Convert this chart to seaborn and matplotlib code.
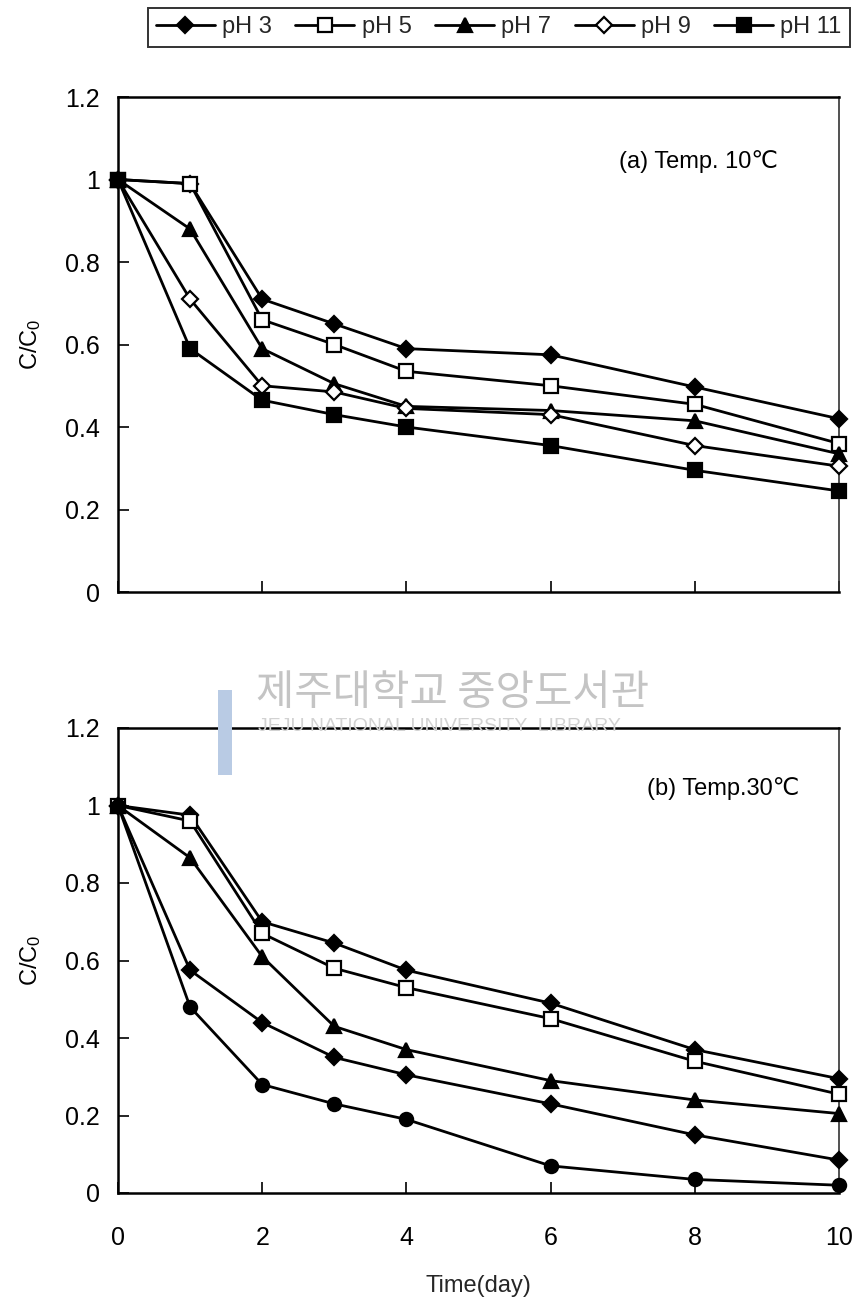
import matplotlib
matplotlib.use("Agg")
import matplotlib.pyplot as plt
import seaborn as sns
import pandas as pd
from matplotlib.ticker import FuncFormatter, FixedLocator
from matplotlib.patches import Rectangle

# ---- data ----
days = [0, 1, 2, 3, 4, 6, 8, 10]
series_names = ["pH 3", "pH 5", "pH 7", "pH 9", "pH 11"]

# (a) Temp. 10 C
temp10 = {
    "pH 3":  [1.00, 0.99, 0.71, 0.65, 0.59, 0.575, 0.497, 0.42],
    "pH 5":  [1.00, 0.99, 0.66, 0.60, 0.535, 0.50, 0.455, 0.36],
    "pH 7":  [1.00, 0.88, 0.59, 0.505, 0.45, 0.44, 0.415, 0.335],
    "pH 9":  [1.00, 0.71, 0.50, 0.485, 0.445, 0.43, 0.355, 0.305],
    "pH 11": [1.00, 0.59, 0.465, 0.43, 0.40, 0.355, 0.295, 0.245],
}
# (b) Temp. 30 C
temp30 = {
    "pH 3":  [1.00, 0.975, 0.70, 0.645, 0.575, 0.49, 0.37, 0.295],
    "pH 5":  [1.00, 0.96, 0.67, 0.58, 0.53, 0.45, 0.34, 0.255],
    "pH 7":  [1.00, 0.865, 0.61, 0.43, 0.37, 0.29, 0.24, 0.205],
    "pH 9":  [1.00, 0.575, 0.44, 0.35, 0.305, 0.23, 0.15, 0.085],
    "pH 11": [1.00, 0.48, 0.28, 0.23, 0.19, 0.07, 0.035, 0.02],
}
y_ticks = [0, 0.2, 0.4, 0.6, 0.8, 1.0, 1.2]
x_ticks = [0, 2, 4, 6, 8, 10]

# marker styles: (marker, size, filled)
style_a = {
    "pH 3":  ("D", 8, True),
    "pH 5":  ("s", 9.5, False),
    "pH 7":  ("^", 9.5, True),
    "pH 9":  ("D", 8, False),
    "pH 11": ("s", 9.5, True),
}
style_b = {
    "pH 3":  ("D", 8, True),
    "pH 5":  ("s", 9.5, False),
    "pH 7":  ("^", 9.5, True),
    "pH 9":  ("D", 8, True),
    "pH 11": ("o", 9.5, True),
}

sns.set_theme(style="white")
plt.rcParams["font.family"] = ["Liberation Sans", "DejaVu Sans"]
plt.rcParams["mathtext.default"] = "regular"

W, H = 852, 1306
fig = plt.figure(figsize=(W / 100, H / 100), dpi=100)
fig.patch.set_facecolor("white")


def frac_box(x0, y0, x1, y1):
    return [x0 / W, 1 - y1 / H, (x1 - x0) / W, (y1 - y0) / H]


ax_a = fig.add_axes(frac_box(118, 97, 839, 592))
ax_b = fig.add_axes(frac_box(118, 728, 839, 1193))


def draw_panel(ax, data, styles, label_text, label_x, show_xlabels):
    for name in series_names:
        m, ms, filled = styles[name]
        df = pd.DataFrame({"day": days, "val": data[name]})
        sns.lineplot(data=df, x="day", y="val", ax=ax, color="black", lw=2.0,
                     marker=m, markersize=ms,
                     markerfacecolor="black" if filled else "white",
                     markeredgecolor="black", markeredgewidth=1.6,
                     label=name, clip_on=False, zorder=3)
    ax.set_xlim(0, 10)
    ax.set_ylim(0, 1.2)
    ax.yaxis.set_major_locator(FixedLocator(y_ticks))
    ax.xaxis.set_major_locator(FixedLocator(x_ticks))
    ax.yaxis.set_major_formatter(FuncFormatter(lambda v, p: f"{v:g}"))
    ax.tick_params(axis="y", direction="in", length=8, width=1.2,
                   labelsize=18, pad=13, left=True, colors="black")
    ax.tick_params(axis="x", direction="in", length=8, width=1.2,
                   labelsize=18, pad=24, bottom=True, colors="black")
    if not show_xlabels:
        ax.tick_params(axis="x", labelbottom=False)
    for side in ["left", "bottom", "top"]:
        ax.spines[side].set_color("black")
        ax.spines[side].set_linewidth(1.8)
    ax.spines["right"].set_color("#333333")
    ax.spines["right"].set_linewidth(1.2)
    ax.set_xlabel("")
    ax.set_ylabel("C/C$_0$", fontsize=17, labelpad=16, color="black")
    ax.text(label_x, 0.87, label_text, transform=ax.transAxes, ha="right",
            va="center", fontsize=17, color="black",
            family=["Liberation Sans", "DejaVu Sans"])
    ax.grid(False)
    ax.set_facecolor("none")
    if ax.get_legend() is not None:
        handles, labels = ax.get_legend_handles_labels()
        ax.get_legend().remove()
        return handles, labels
    return None, None


handles, labels = draw_panel(ax_a, temp10, style_a, "(a) Temp. 10\u2103",
                             0.915, False)
draw_panel(ax_b, temp30, style_b, "(b) Temp.30\u2103", 0.945, True)

ax_b.set_xlabel("Time(day)", fontsize=17, labelpad=18)

# legend box across the top
leg = fig.legend(handles, labels, loc="upper right", ncol=5,
                 bbox_to_anchor=(850 / W, 1 - 8 / H), borderaxespad=0,
                 frameon=True, fancybox=False, edgecolor="black",
                 fontsize=17, handlelength=2.5, handletextpad=0.3,
                 columnspacing=1.0, borderpad=0.35)
leg.get_frame().set_linewidth(1.4)

# faint library watermark
fig.patches.append(Rectangle((218 / W, 1 - 775 / H), 14 / W, 85 / H,
                             transform=fig.transFigure, facecolor="#b9cbe4",
                             edgecolor="none", zorder=0))
fig.text(256 / W, 1 - 694 / H, "제주대학교 중앙도서관", fontsize=30,
         color="#c4c4c4", family=["Noto Sans CJK KR"], va="center",
         ha="left", zorder=0)
fig.text(258 / W, 1 - 727 / H, "JEJU NATIONAL UNIVERSITY  LIBRARY",
         fontsize=14, color="#d2d2d2", va="center", ha="left", zorder=0)

fig.savefig("out.png", dpi=100, facecolor="white")
